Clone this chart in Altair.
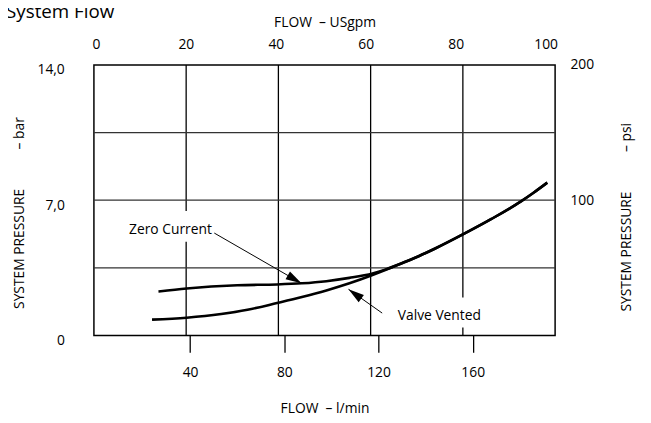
import altair as alt
import pandas as pd

FONT = "Open Sans"
NB = "\u00a0"

# ---------------- data ----------------
chart_title = ["System Flow"]

zero_gpm = [14.0, 20.1, 31.1, 39.7, 45.1, 50.4, 55.4, 60.4, 63.3, 66.9, 70.4, 74.0, 80.4, 86.2, 92.6, 95.4, 98.3]
zero_bar = [2.27, 2.43, 2.60, 2.64, 2.70, 2.81, 2.98, 3.21, 3.42, 3.75, 4.10, 4.50, 5.28, 6.03, 6.94, 7.40, 7.91]

vent_gpm = [12.6, 20.1, 27.6, 33.3, 39.7, 45.1, 50.4, 55.4, 60.4, 63.3, 66.9, 70.4, 74.0, 80.4, 86.2, 92.6, 95.4, 98.3]
vent_bar = [0.82, 0.92, 1.11, 1.33, 1.68, 1.99, 2.33, 2.70, 3.13, 3.40, 3.75, 4.10, 4.50, 5.28, 6.03, 6.94, 7.40, 7.91]

top_ticks_gpm = [0, 20, 40, 60, 80, 100]
bottom_ticks_lpm = [40, 80, 120, 160]
left_ticks_bar = [0, 7, 14]
right_ticks_psi = [100, 200]
grid_gpm = [20, 40, 60, 80]
grid_bar = [3.5, 7, 10.5]

labels = ["Zero Current", "Valve Vented"]
label_gpm = [16.6, 74.9]
label_bar = [5.47, 0.99]
box_gpm0 = [6.6, 65.1]
box_gpm1 = [26.6, 84.6]
box_bar0 = [4.85, 0.41]
box_bar1 = [6.44, 1.97]
arrow_from_gpm = [26.1, 62.5]
arrow_from_bar = [5.30, 1.16]
arrow_to_gpm = [45.0, 55.2]
arrow_to_bar = [2.70, 2.39]
arrow_angle = [30, 216]

# ---------------- tables ----------------
curves_df = pd.concat([
    pd.DataFrame({"series": "Zero Current", "gpm": zero_gpm, "bar": zero_bar}),
    pd.DataFrame({"series": "Valve Vented", "gpm": vent_gpm, "bar": vent_bar}),
])
ann_df = pd.DataFrame({
    "label": labels, "gpm": label_gpm, "bar": label_bar,
    "bx0": box_gpm0, "bx1": box_gpm1, "by0": box_bar0, "by1": box_bar1,
    "ax0": arrow_from_gpm, "ay0": arrow_from_bar,
    "ax1": arrow_to_gpm, "ay1": arrow_to_bar, "angle": arrow_angle,
})


def xs():
    return alt.Scale(domain=[0, 100], nice=False, zero=False)


def ys():
    return alt.Scale(domain=[0, 14], nice=False, zero=False)


axis_common = dict(labelFont=FONT, labelFontSize=14, labelColor="black",
                   titleFont=FONT, titleFontSize=14, titleFontWeight="normal",
                   titleColor="black", grid=False, domain=False)

grid_v = alt.Chart(pd.DataFrame({"gpm": grid_gpm})).mark_rule(
    color="black", strokeWidth=1.3
).encode(x=alt.X("gpm:Q", scale=xs(), axis=None))

grid_h = alt.Chart(pd.DataFrame({"bar": grid_bar})).mark_rule(
    color="#333333", strokeWidth=1.3
).encode(y=alt.Y("bar:Q", scale=ys(), axis=None))

boxes = alt.Chart(ann_df).mark_rect(fill="white").encode(
    x=alt.X("bx0:Q", scale=xs(), axis=None), x2="bx1:Q",
    y=alt.Y("by0:Q", scale=ys(), axis=None), y2="by1:Q",
)

curves = alt.Chart(curves_df).mark_line(
    color="black", strokeWidth=2.6, interpolate="monotone"
).encode(
    x=alt.X("gpm:Q", scale=xs(), axis=None),
    y=alt.Y("bar:Q", scale=ys(), axis=alt.Axis(
        orient="left", values=left_ticks_bar,
        labelExpr="datum.value == 0 ? '0' : replace(format(datum.value, '.1f'), '.', ',')",
        ticks=False, tickSize=0, labelPadding=30, labelOffset=5, labelAlign="right",
        title="SYSTEM PRESSURE" + NB * 11 + "– bar", titleAngle=270,
        titleX=-75, titleY=149.5, titleAlign="center", titleBaseline="middle",
        **axis_common)),
    detail="series:N",
)

shafts = alt.Chart(ann_df).mark_rule(color="black", strokeWidth=1).encode(
    x=alt.X("ax0:Q", scale=xs(), axis=None), x2="ax1:Q",
    y=alt.Y("ay0:Q", scale=ys(), axis=None), y2="ay1:Q",
)

heads = alt.Chart(ann_df).mark_point(
    shape="M0,0L-1,-0.28L-1,0.28Z", size=1024, filled=True,
    color="black", opacity=1, strokeWidth=0
).encode(
    x=alt.X("ax1:Q", scale=xs(), axis=None),
    y=alt.Y("ay1:Q", scale=ys(), axis=None),
    angle=alt.Angle("angle:Q", scale=None),
)

texts = alt.Chart(ann_df).mark_text(
    font=FONT, fontSize=14, color="black", align="center", baseline="middle"
).encode(
    x=alt.X("gpm:Q", scale=xs(), axis=None),
    y=alt.Y("bar:Q", scale=ys(), axis=None),
    text="label:N",
)

title_txt = alt.Chart(pd.DataFrame({"t": chart_title})).mark_text(
    font=FONT, fontSize=19, color="black", align="left", baseline="alphabetic"
).encode(x=alt.value(-89), y=alt.value(-47), text="t:N")

bottom_axis = alt.Chart(pd.DataFrame({"lpm": bottom_ticks_lpm})).mark_point(opacity=0).encode(
    x=alt.X("lpm:Q", scale=alt.Scale(domain=[-0.84, 195], nice=False, zero=False),
            axis=alt.Axis(orient="bottom", values=bottom_ticks_lpm, format="d",
                          ticks=True, tickSize=17, tickColor="black", tickWidth=1.3,
                          labelPadding=14, title="FLOW" + NB * 2 + "– l/min", titlePadding=22,
                          **axis_common)),
    y=alt.value(0),
)

right_axis = alt.Chart(pd.DataFrame({"psi": right_ticks_psi})).mark_point(opacity=0).encode(
    y=alt.Y("psi:Q", scale=alt.Scale(domain=[0, 200], nice=False, zero=False),
            axis=alt.Axis(orient="right", values=right_ticks_psi, format="d",
                          ticks=False, tickSize=0, labelPadding=15, labelAlign="left",
                          title="SYSTEM PRESSURE" + NB * 11 + "– psi", titleAngle=270,
                          titleX=72, titleY=153.8, titleAlign="center", titleBaseline="middle",
                          **axis_common)),
    x=alt.value(0),
)

top_axis = alt.Chart(pd.DataFrame({"gpm": top_ticks_gpm})).mark_point(opacity=0).encode(
    x=alt.X("gpm:Q", scale=alt.Scale(domain=[-0.44, 102.1], nice=False, zero=False),
            axis=alt.Axis(orient="top", values=top_ticks_gpm, format="d",
                          ticks=False, tickSize=0, labelPadding=14,
                          title="FLOW" + NB * 2 + "– USgpm", titlePadding=8,
                          **axis_common)),
    y=alt.value(0),
)

chart = alt.layer(
    grid_v, grid_h, boxes, curves, shafts, heads, texts, title_txt,
    bottom_axis, right_axis, top_axis,
).resolve_scale(
    x="independent", y="independent"
).properties(
    width=467, height=274,
    autosize=alt.AutoSizeParams(type="none"),
    padding={"left": 87, "top": 55, "right": 89, "bottom": 86},
).configure_view(stroke="black", strokeWidth=1.5)

chart.save("out.html", embed_options={"renderer": "svg", "actions": False})
